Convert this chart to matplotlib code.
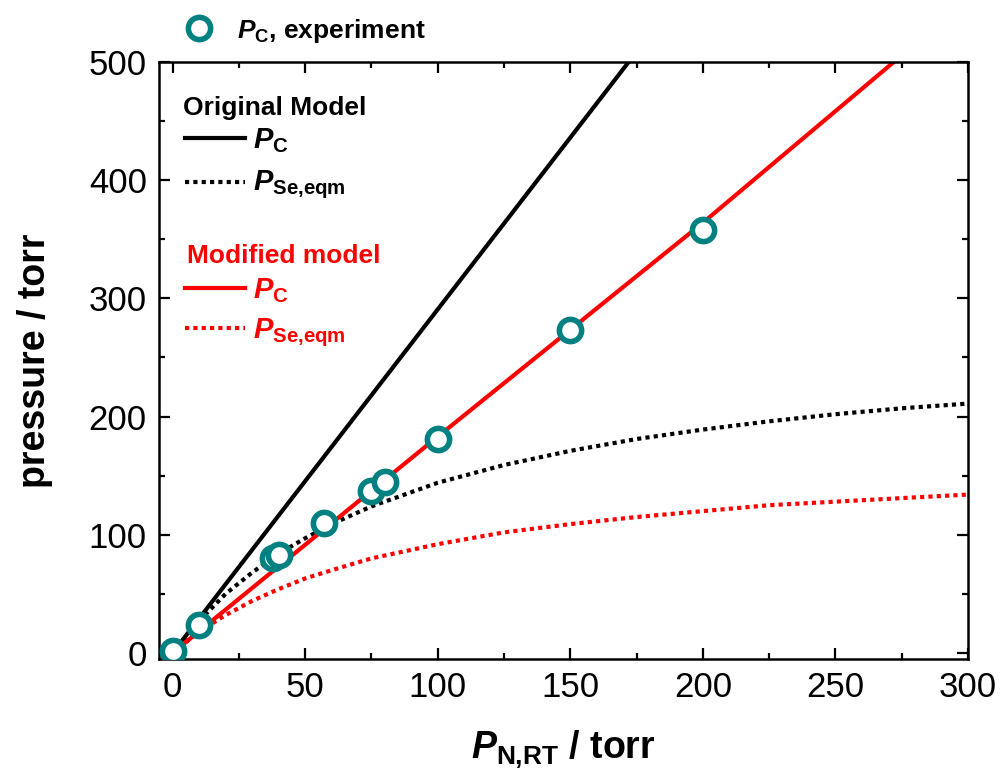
import matplotlib
matplotlib.use("Agg")
import matplotlib.pyplot as plt

plt.rcParams["font.family"] = ["Liberation Sans", "DejaVu Sans"]
plt.rcParams["mathtext.fontset"] = "custom"
plt.rcParams["mathtext.it"] = "Liberation Sans:italic:bold"
plt.rcParams["mathtext.rm"] = "Liberation Sans:bold"
plt.rcParams["mathtext.bf"] = "Liberation Sans:bold"

# experiment: P_C vs P_N,RT (torr)
exp_x = [0, 10, 38, 40, 57, 75, 80, 100, 150, 200]
exp_y = [2, 24, 80, 83, 110, 137, 145, 181, 273, 358]

# original model
orig_pc_x = [0, 172]
orig_pc_y = [0, 500]
model_x = [0, 5, 10, 20, 30, 40, 50, 60, 75, 100, 125, 150, 175, 200, 225, 250, 275, 300]
orig_pse = [0, 14, 27, 50, 68, 84, 97, 109, 124, 144, 159, 171, 181, 189, 196, 202, 207, 211]

# modified model
mod_pc_x = [0, 100, 200, 272]
mod_pc_y = [0, 183, 364, 500]
mod_pse = [0, 9, 18, 32, 44, 54, 63, 70, 80, 92, 102, 109, 115, 120, 125, 128, 131, 134]

teal = "#008080"
red = "#ff0000"
dots = (0, (1.0, 1.0))
lw_solid = 3.0
lw_dot = 3.0

fig = plt.figure(figsize=(10.02, 7.76), dpi=100)
ax = fig.add_axes([0.159, 0.151, 0.807, 0.769])

ax.plot(orig_pc_x, orig_pc_y, color="black", lw=lw_solid)
ax.plot(model_x, orig_pse, color="black", lw=lw_dot, linestyle=dots)
ax.plot(mod_pc_x, mod_pc_y, color=red, lw=lw_solid)
ax.plot(model_x, mod_pse, color=red, lw=lw_dot, linestyle=dots)
ax.plot(exp_x, exp_y, "o", ms=16, mfc="white", mec=teal, mew=4, zorder=5)

ax.set_xlim(-5, 300)
ax.set_ylim(-5, 500)
ax.set_xticks([0, 50, 100, 150, 200, 250, 300])
ax.set_xticks(range(25, 300, 50), minor=True)
ax.set_yticks([0, 100, 200, 300, 400, 500])
ax.set_yticks(range(50, 500, 100), minor=True)
ax.tick_params(which="both", direction="in", top=True, right=True, width=1.6, labelsize=25)
ax.tick_params(which="major", length=8, pad=9)
ax.tick_params(which="minor", length=4)
for s in ax.spines.values():
    s.set_linewidth(1.8)

ax.set_xlabel(r"$\mathit{P}_{\mathrm{N{,}RT}}$ / torr", fontsize=27, fontweight="bold", labelpad=18)
ax.set_ylabel("pressure / torr", fontsize=27, fontweight="bold")
ax.yaxis.set_label_coords(-0.132, 0.5)

# legend drawn by hand
tr = ax.transAxes
ax.plot([0.0494], [1.057], "o", ms=16, mfc="white", mec=teal, mew=4, transform=tr, clip_on=False)
ax.text(0.0964, 1.040, r"$\mathit{P}_{\mathrm{C}}$, experiment", transform=tr,
        fontsize=19, fontweight="bold", va="baseline")

ax.text(0.0297, 0.911, "Original Model", transform=tr, fontsize=19, fontweight="bold", va="baseline")
ax.plot([0.032, 0.106], [0.873, 0.873], color="black", lw=lw_solid, transform=tr)
ax.text(0.116, 0.856, r"$\mathit{P}_{\mathrm{C}}$", transform=tr, fontsize=21, va="baseline")
ax.plot([0.032, 0.106], [0.799, 0.799], color="black", lw=lw_dot, linestyle=dots, transform=tr)
ax.text(0.116, 0.786, r"$\mathit{P}_{\mathrm{Se{,}eqm}}$", transform=tr, fontsize=21, va="baseline")

ax.text(0.0346, 0.663, "Modified model", transform=tr, fontsize=19, fontweight="bold",
        color=red, va="baseline")
ax.plot([0.032, 0.106], [0.621, 0.621], color=red, lw=lw_solid, transform=tr)
ax.text(0.116, 0.605, r"$\mathit{P}_{\mathrm{C}}$", transform=tr, fontsize=21, color=red, va="baseline")
ax.plot([0.032, 0.106], [0.554, 0.554], color=red, lw=lw_dot, linestyle=dots, transform=tr)
ax.text(0.116, 0.538, r"$\mathit{P}_{\mathrm{Se{,}eqm}}$", transform=tr, fontsize=21, color=red, va="baseline")

fig.savefig("out.png", dpi=100)
